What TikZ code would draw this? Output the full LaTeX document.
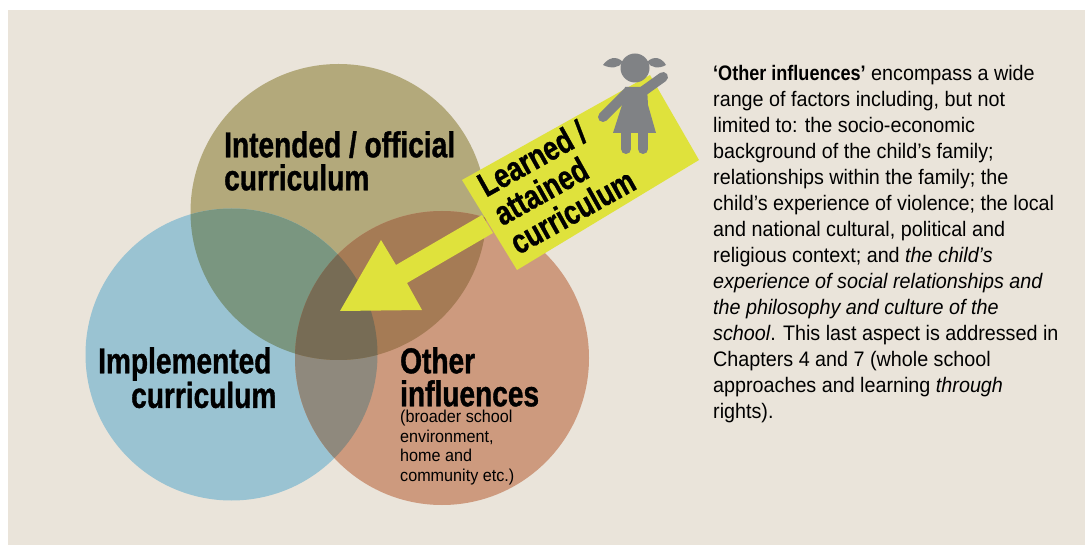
\documentclass[tikz,border=0pt]{standalone}
\usepackage{fontspec}
\setmainfont{Liberation Sans}
\newfontfamily\headfont[FakeStretch=0.78,BoldFeatures={FakeBold=1}]{Liberation Sans}
\newfontfamily\bodyfont[FakeStretch=0.94,BoldFeatures={FakeStretch=0.86}]{Liberation Sans}
\definecolor{paper}{HTML}{EAE4DA}
\definecolor{tanc}{HTML}{B3A97B}
\definecolor{bluec}{HTML}{9AC3D2}
\definecolor{rustc}{HTML}{CD9A7E}
\definecolor{tanblue}{HTML}{7A9680}
\definecolor{tanrust}{HTML}{A57B55}
\definecolor{bluerust}{HTML}{8F897D}
\definecolor{allthree}{HTML}{776C55}
\definecolor{lime}{HTML}{DFE23C}
\definecolor{girlgrey}{HTML}{808285}
\tikzset{
  heading/.style={inner sep=0pt,text=black,font=\headfont\bfseries\fontsize{36}{33}\selectfont},
  small/.style={inner sep=0pt,text=black,font=\bodyfont\fontsize{17.2}{19.5}\selectfont},
  limb/.style={draw=girlgrey,line width=10pt,line cap=round},
}
\begin{document}
\begin{tikzpicture}[x=1pt,y=-1pt]
\useasboundingbox (0,0) rectangle (1085,545);
\fill[paper] (8,10) rectangle (1085,545);
\coordinate (tan) at (338.5,212);
\coordinate (blue) at (231.5,354.5);
\coordinate (rust) at (442,358);
% Trois cercles
\fill[tanc] (tan) circle [radius=148pt];
\fill[bluec] (blue) circle [radius=146pt];
\fill[rustc] (rust) circle [radius=147pt];
% Recouvrements
\begin{scope}
  \clip (blue) circle [radius=146pt];
  \fill[bluerust] (rust) circle [radius=147pt];
\end{scope}
\begin{scope}
  \clip (tan) circle [radius=148pt];
  \fill[tanblue] (blue) circle [radius=146pt];
  \fill[tanrust] (rust) circle [radius=147pt];
  \clip (blue) circle [radius=146pt];
  \fill[allthree] (rust) circle [radius=147pt];
\end{scope}
% Panneau et grosse fleche
\fill[lime] (462,180) -- (650,75) -- (699,160) -- (517,270) -- cycle;
\fill[lime] (482,215) -- (396,265) -- (381,240) -- (340,311) -- (422,310) -- (407,283) -- (493,233) -- cycle;
% Fillette
\fill[girlgrey] (635,68) circle [radius=14.5pt];
\fill[girlgrey] (623,62) .. controls (616,55) and (608,58) .. (603,65) .. controls (611,69) and (619,68) .. (623,62) -- cycle;
\fill[girlgrey] (647,62) .. controls (654,55) and (662,58) .. (666,65) .. controls (659,69) and (651,68) .. (647,62) -- cycle;
\draw[limb] (628,92) -- (603,117);
\draw[limb] (642,92) -- (663,77);
\draw[limb] (626,130) -- (626,149);
\draw[limb] (643,130) -- (643,149);
\fill[girlgrey] (625,87) -- (647,87) -- (648,105) -- (656,133) -- (613,133) -- (622,105) -- cycle;
% Textes
\node[heading,align=left,anchor=north west] (intended) at (224,131) {Intended / official\\curriculum};
\node[heading,align=left,anchor=north west] (implemented) at (98,347) {Implemented\\\hspace*{33pt}curriculum};
\node[heading,align=left,anchor=north west] (other) at (400,347) {Other\\influences};
\node[small,align=left,anchor=north west] (broader) at (400,410) {(broader school\\environment,\\home and\\community etc.)};
\node[heading,align=left,anchor=north west,rotate=29.2,font=\headfont\bfseries\fontsize{34}{33}\selectfont] (learned) at (474,176) {Learned /\\attained\\curriculum};
\node[inner sep=0pt,align=left,anchor=north west,font=\bodyfont\fontsize{21}{26}\selectfont] (note) at (713,65)
{\textbf{‘Other influences’} encompass a wide\\
range of factors including, but not\\
limited to: the socio-economic\\
background of the child’s family;\\
relationships within the family; the\\
child’s experience of violence; the local\\
and national cultural, political and\\
religious context; and \textit{the child’s}\\
\textit{experience of social relationships and}\\
\textit{the philosophy and culture of the}\\
\textit{school}. This last aspect is addressed in\\
Chapters 4 and 7 (whole school\\
approaches and learning \textit{through}\\
rights).};
\end{tikzpicture}
\end{document}
